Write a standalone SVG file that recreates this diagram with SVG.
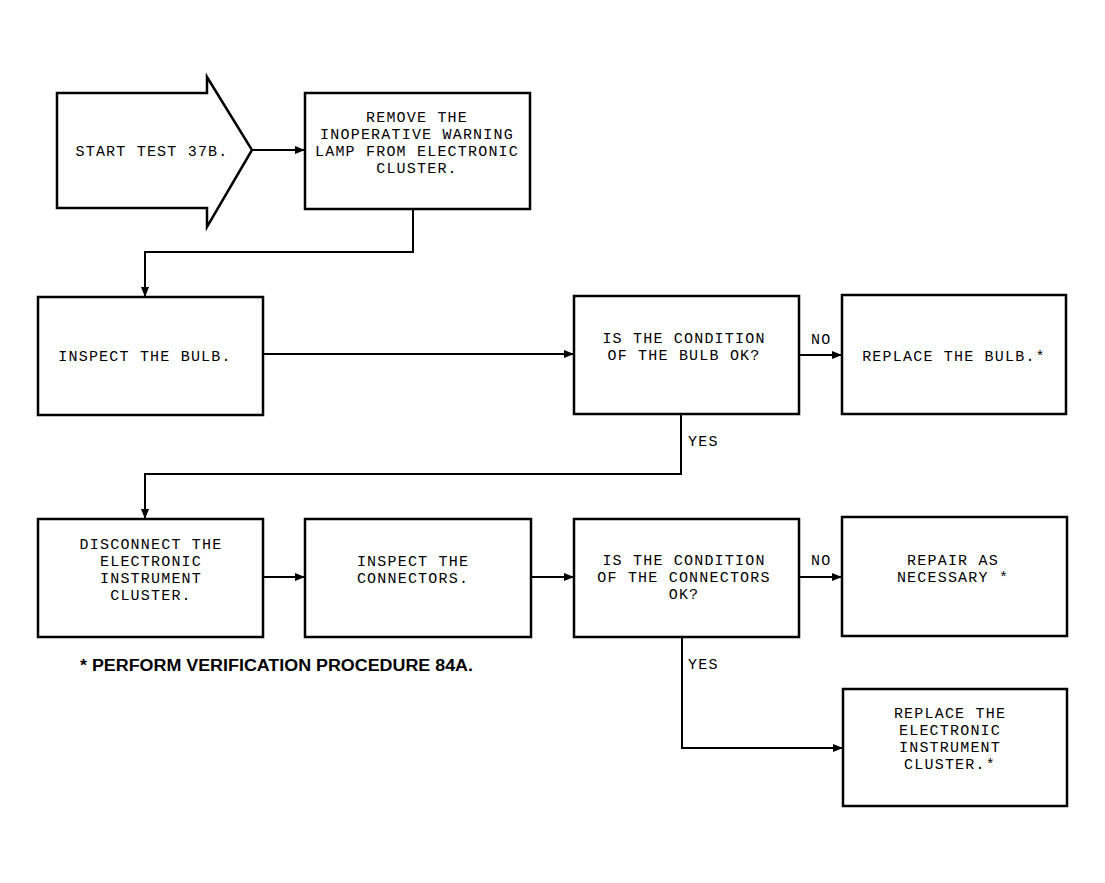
<svg xmlns="http://www.w3.org/2000/svg" width="1105" height="883" viewBox="0 0 1105 883">
<style>
.box{fill:#fff;stroke:#000;stroke-width:2.5}
.t{font-family:"Liberation Mono",monospace;font-size:15px;letter-spacing:1.2px;fill:#000;text-anchor:middle}
.lbl{font-family:"Liberation Mono",monospace;font-size:15px;letter-spacing:1.2px;fill:#000}
.c{fill:none;stroke:#000;stroke-width:2}
.note{font-family:"Liberation Sans",Arial,sans-serif;font-weight:bold;font-size:16px;fill:#000}
</style>
<defs>
<marker id="ah" markerWidth="10" markerHeight="8" refX="9" refY="4" orient="auto" markerUnits="userSpaceOnUse">
<path d="M0,0 L10,4 L0,8 Z" fill="#000"/>
</marker>
</defs>
<rect width="1105" height="883" fill="#fff"/>
<g id="start">
<path class="box" d="M57,93 L207,93 L207,77 L252,150 L207,227 L207,208 L57,208 Z"/>
<text class="t" x="152" y="156">START TEST 37B.</text>
</g>
<g id="remove">
<rect class="box" x="305" y="93" width="225" height="116"/>
<text class="t" x="417" y="122">REMOVE THE</text>
<text class="t" x="417" y="139">INOPERATIVE WARNING</text>
<text class="t" x="417" y="156">LAMP FROM ELECTRONIC</text>
<text class="t" x="417" y="173">CLUSTER.</text>
</g>
<g id="inspect_bulb">
<rect class="box" x="38" y="297" width="225" height="118"/>
<text class="t" x="145" y="361">INSPECT THE BULB.</text>
</g>
<g id="decision_bulb">
<rect class="box" x="574" y="296" width="225" height="118"/>
<text class="t" x="684" y="343">IS THE CONDITION</text>
<text class="t" x="684" y="360">OF THE BULB OK?</text>
</g>
<g id="replace_bulb">
<rect class="box" x="842" y="295" width="224" height="119"/>
<text class="t" x="954" y="361">REPLACE THE BULB.*</text>
</g>
<g id="disconnect">
<rect class="box" x="38" y="519" width="225" height="118"/>
<text class="t" x="151" y="549">DISCONNECT THE</text>
<text class="t" x="151" y="566">ELECTRONIC</text>
<text class="t" x="151" y="583">INSTRUMENT</text>
<text class="t" x="151" y="600">CLUSTER.</text>
</g>
<g id="inspect_connectors">
<rect class="box" x="305" y="519" width="226" height="118"/>
<text class="t" x="413" y="566">INSPECT THE</text>
<text class="t" x="413" y="583">CONNECTORS.</text>
</g>
<g id="decision_connectors">
<rect class="box" x="574" y="519" width="225" height="118"/>
<text class="t" x="684" y="565">IS THE CONDITION</text>
<text class="t" x="684" y="582">OF THE CONNECTORS</text>
<text class="t" x="684" y="599">OK?</text>
</g>
<g id="repair">
<rect class="box" x="842" y="517" width="225" height="119"/>
<text class="t" x="953" y="565">REPAIR AS</text>
<text class="t" x="953" y="582">NECESSARY *</text>
</g>
<g id="replace_cluster">
<rect class="box" x="843" y="689" width="224" height="117"/>
<text class="t" x="950" y="718">REPLACE THE</text>
<text class="t" x="950" y="735">ELECTRONIC</text>
<text class="t" x="950" y="752">INSTRUMENT</text>
<text class="t" x="950" y="769">CLUSTER.*</text>
</g>
<g id="connectors">
<path class="c" d="M252,150 L304,150" marker-end="url(#ah)"/>
<path class="c" d="M413,209 L413,252 L145,252 L145,296" marker-end="url(#ah)"/>
<path class="c" d="M263,354 L573,354" marker-end="url(#ah)"/>
<path class="c" d="M799,355 L841,355" marker-end="url(#ah)"/>
<path class="c" d="M681,414 L681,474 L145,474 L145,518" marker-end="url(#ah)"/>
<path class="c" d="M263,577 L304,577" marker-end="url(#ah)"/>
<path class="c" d="M531,577 L573,577" marker-end="url(#ah)"/>
<path class="c" d="M799,577 L841,577" marker-end="url(#ah)"/>
<path class="c" d="M682,637 L682,748 L842,748" marker-end="url(#ah)"/>
<text class="lbl" x="811" y="344">NO</text>
<text class="lbl" x="688" y="446">YES</text>
<text class="lbl" x="811" y="565">NO</text>
<text class="lbl" x="688" y="669">YES</text>
</g>
<text class="note" x="80" y="671" textLength="393" lengthAdjust="spacingAndGlyphs">* PERFORM VERIFICATION PROCEDURE 84A.</text>
</svg>
